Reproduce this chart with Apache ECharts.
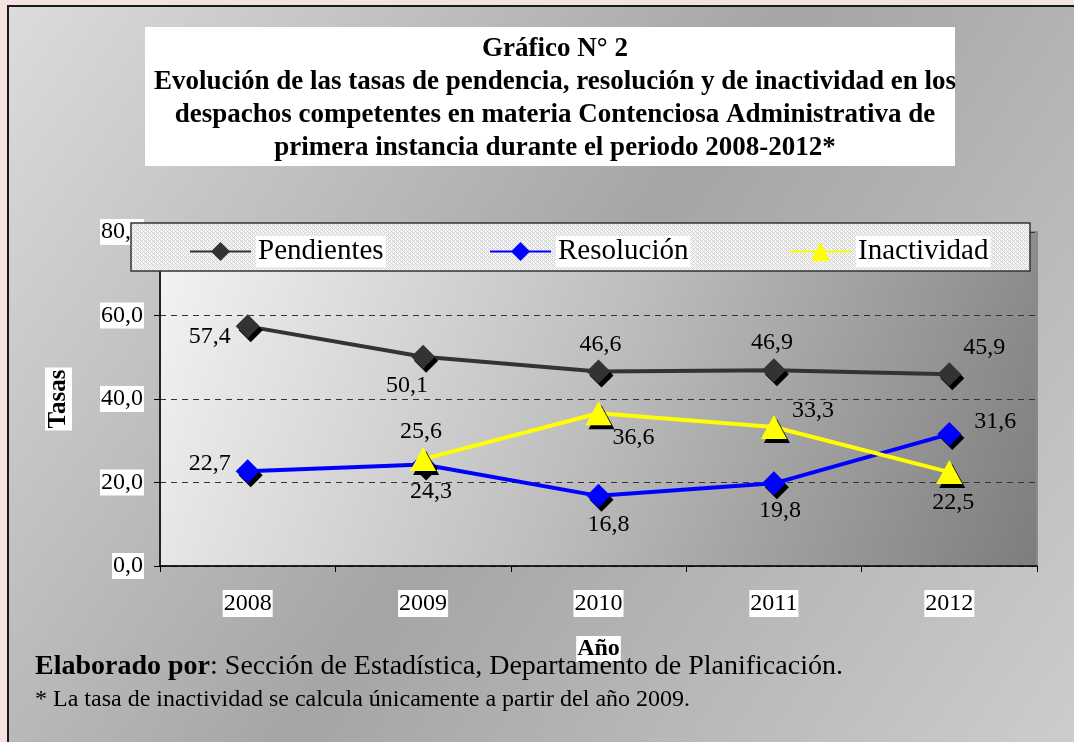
<!DOCTYPE html>
<html>
<head>
    <meta charset="utf-8">
    <title>Gráfico N° 2</title>
    <script src="https://cdn.jsdelivr.net/npm/echarts@6/dist/echarts.min.js"></script>
    <style>
        html, body { margin: 0; padding: 0; background: #f3e2de; }
    </style>
</head>
<body>
<div id="main" style="width: 1074px;height:742px;"></div>
<script type="text/javascript">
    // datos
    var anios = ['2008', '2009', '2010', '2011', '2012'];
    var pendientes = [57.4, 50.1, 46.6, 46.9, 45.9];
    var resolucion = [22.7, 24.3, 16.8, 19.8, 31.6];
    var inactividad = [null, 25.6, 36.6, 33.3, 22.5];
    var yTicks = [0, 20, 40, 60, 80];

    var serif = 'Liberation Serif';

    // posicion de cada etiqueta de dato
    var posPend = [['left', [0, 10]], ['bottom', [-16, 0]], ['top', [2, 2]], ['top', [-2, 2]], ['top', [35, 2]]];
    var posResol = [['left', [0, -8]], ['bottom', [8, -2]], ['bottom', [10, 0]], ['bottom', [6, -2]], ['right', [8, -12]]];
    var posInact = [null, ['top', [-2, 2]], ['bottom', [35, -4]], ['right', [0, -16]], ['bottom', [4, 2]]];

    function fmt(v) {
        return v.toFixed(1).replace('.', ',');
    }

    function buildData(values, pos) {
        return values.map(function (v, i) {
            if (v === null) return null;
            return {
                value: v,
                label: { position: pos[i][0], offset: pos[i][1] }
            };
        });
    }

    // trama del recuadro de la leyenda
    var pat = document.createElement('canvas');
    pat.width = pat.height = 4;
    var pctx = pat.getContext('2d');
    pctx.fillStyle = '#f6f6f6';
    pctx.fillRect(0, 0, 4, 4);
    pctx.fillStyle = '#d2d2d2';
    pctx.fillRect(0, 0, 1, 1);
    pctx.fillRect(2, 0, 1, 1);
    pctx.fillRect(1, 1, 1, 1);
    pctx.fillRect(0, 2, 1, 1);
    pctx.fillRect(2, 2, 1, 1);
    pctx.fillRect(3, 3, 1, 1);

    var myChart = echarts.init(document.getElementById('main'));

    var labelBase = {
        show: true,
        color: '#000',
        fontFamily: serif,
        fontSize: 24,
        distance: 5,
        formatter: function (p) { return fmt(p.value); }
    };

    var shadow = {
        shadowColor: '#000',
        shadowBlur: 0,
        shadowOffsetX: 3,
        shadowOffsetY: 4
    };

    function legendItem(name, left) {
        return {
            data: [name],
            left: left,
            top: 231,
            itemWidth: 61,
            itemHeight: 24,
            itemGap: 5,
            z: 8,
            itemStyle: { shadowColor: 'transparent' },
            textStyle: {
                fontFamily: serif,
                fontSize: 29,
                color: '#000',
                backgroundColor: '#fff',
                padding: [2, 2, 0, 2]
            }
        };
    }

    var option = {
        backgroundColor: '#f3e2de',
        animation: false,
        graphic: [{
            type: 'rect',
            z: -10,
            shape: { x: 8, y: 6, width: 1070, height: 740 },
            style: {
                fill: new echarts.graphic.LinearGradient(0, 0, 1, 1, [
                    { offset: 0, color: '#dcdcdc' },
                    { offset: 0.5, color: '#a5a5a5' },
                    { offset: 1, color: '#cdcdcd' }
                ]),
                stroke: '#1a1a1a',
                lineWidth: 2
            }
        }, {
            type: 'rect',
            z: -5,
            shape: { x: 145, y: 27, width: 810, height: 139 },
            style: { fill: '#fff' }
        }, {
            type: 'rect',
            z: 7,
            shape: { x: 131, y: 223, width: 899, height: 48 },
            style: {
                fill: { image: pat, repeat: 'repeat' },
                stroke: '#333',
                lineWidth: 1.5
            }
        }, {
            type: 'text',
            z: 5,
            left: 35,
            top: 653,
            style: {
                text: '{b|Elaborado por}: Sección de Estadística, Departamento de Planificación.',
                fontFamily: serif,
                fontSize: 28,
                fill: '#000',
                rich: {
                    b: { fontWeight: 'bold', fontSize: 28, fontFamily: serif, fill: '#000' }
                }
            }
        }, {
            type: 'text',
            z: 5,
            left: 35,
            top: 688,
            style: {
                text: '* La tasa de inactividad se calcula únicamente a partir del año 2009.',
                fontFamily: serif,
                fontSize: 24,
                fill: '#000'
            }
        }],
        title: {
            text: 'Gráfico N° 2\nEvolución de las tasas de pendencia, resolución y de inactividad en los\ndespachos competentes en materia Contenciosa Administrativa de\nprimera instancia durante el periodo 2008-2012*',
            left: 550,
            top: 28,
            textAlign: 'center',
            textStyle: {
                fontFamily: serif,
                fontWeight: 'bold',
                fontSize: 27,
                lineHeight: 33,
                color: '#000'
            }
        },
        legend: [
            legendItem('Pendientes', 184),
            legendItem('Resolución', 484),
            legendItem('Inactividad', 784)
        ],
        grid: {
            left: 160,
            right: 37,
            top: 232,
            bottom: 176,
            show: true,
            borderColor: '#8a8a8a',
            borderWidth: 2,
            backgroundColor: new echarts.graphic.LinearGradient(0, 0, 1, 1, [
                { offset: 0, color: '#f4f4f4' },
                { offset: 0.5, color: '#bdbdbd' },
                { offset: 1, color: '#7d7d7d' }
            ])
        },
        xAxis: {
            type: 'category',
            data: anios,
            boundaryGap: true,
            name: 'Año',
            nameLocation: 'middle',
            nameGap: 70,
            nameTextStyle: {
                fontFamily: serif,
                fontWeight: 'bold',
                fontSize: 24,
                color: '#000',
                backgroundColor: '#fff',
                padding: [1, 1]
            },
            axisLine: { show: true, lineStyle: { color: '#000', width: 1.5 } },
            axisTick: { show: true, length: 6, lineStyle: { color: '#000' } },
            axisLabel: {
                margin: 24,
                fontFamily: serif,
                fontSize: 24,
                color: '#000',
                backgroundColor: '#fff',
                padding: [2, 1, 1, 1]
            },
            splitLine: { show: false }
        },
        yAxis: {
            type: 'value',
            min: yTicks[0],
            max: yTicks[yTicks.length - 1],
            interval: yTicks[1] - yTicks[0],
            name: 'Tasas',
            nameLocation: 'middle',
            nameRotate: 90,
            nameGap: 88,
            nameTextStyle: {
                fontFamily: serif,
                fontWeight: 'bold',
                fontSize: 25,
                color: '#000',
                backgroundColor: '#fff',
                padding: [1, 2]
            },
            axisLine: { show: true, lineStyle: { color: '#000', width: 1.5 } },
            axisTick: { show: true, length: 6, lineStyle: { color: '#000' } },
            axisLabel: {
                margin: 16,
                fontFamily: serif,
                fontSize: 24,
                color: '#000',
                backgroundColor: '#fff',
                padding: [2, 1, 0, 1],
                formatter: fmt
            },
            splitLine: {
                show: true,
                lineStyle: { color: '#333', type: [6, 5], width: 1 }
            }
        },
        series: [{
            name: 'Pendientes',
            type: 'line',
            symbol: 'diamond',
            symbolSize: [24, 24],
            z: 3,
            lineStyle: { color: '#333', width: 4 },
            itemStyle: Object.assign({ color: '#333' }, shadow),
            label: labelBase,
            data: buildData(pendientes, posPend)
        }, {
            name: 'Resolución',
            type: 'line',
            symbol: 'diamond',
            symbolSize: [24, 24],
            z: 4,
            lineStyle: { color: '#0000ff', width: 4 },
            itemStyle: Object.assign({ color: '#0000ff' }, shadow),
            label: labelBase,
            data: buildData(resolucion, posResol)
        }, {
            name: 'Inactividad',
            type: 'line',
            symbol: 'triangle',
            symbolSize: [26, 24],
            z: 5,
            connectNulls: false,
            lineStyle: { color: '#ffff00', width: 4 },
            itemStyle: Object.assign({ color: '#ffff00' }, shadow),
            label: labelBase,
            data: buildData(inactividad, posInact)
        }]
    };

    myChart.setOption(option);
</script>
</body>
</html>
